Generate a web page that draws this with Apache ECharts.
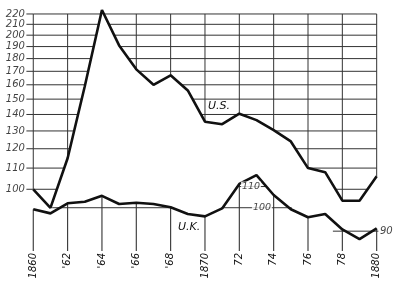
<!DOCTYPE html>
<html><head><meta charset="utf-8">
<script src="https://cdn.jsdelivr.net/npm/echarts@6/dist/echarts.min.js"></script>
<style>html,body{margin:0;padding:0;background:#fff}#c{width:400px;height:283px}</style>
</head><body><div id="c"></div>
<script>
// ---- data ----
const years = [1860,1861,1862,1863,1864,1865,1866,1867,1868,1869,1870,1871,1872,1873,1874,1875,1876,1877,1878,1879,1880];
const usValues = [100,92,115,159,224,191,171.5,160,167,156,135.5,134,140.5,136.5,130.5,124,110,108,95,95,106];
const ukValues = [99.3,97.5,102,102.7,105.5,101.7,102.3,101.7,100.2,97.2,96.2,99.7,111.3,115.8,105.9,99.3,95.8,97.2,90.7,86.8,91.1];
const usTicks = [100,110,120,130,140,150,160,170,180,190,200,210,220];
const xTickYears = [1860,1862,1864,1866,1868,1870,1872,1874,1876,1878,1880];
const xTickLabels = ['1860',"'62","'64","'66","'68",'1870','72','74','76','78','1880'];
const ukRefValues = [100,100,110,90];
const ukRefFrom = [1861.1,1870.95,1871.85,1877.45];
const ukRefTo = [1868.1,1875.05,1873.55,1880.1];
const ukRefLabelValues = [110,100];
const ukRefLabelYears = [1872.68,1873.32];

// ---- axis ranges / styles ----
const US_MIN = 75.76, US_MAX = 226.0, UK_MIN = 82.32, UK_MAX = 245.5;
const X_MIN = 1859.6, X_MAX = 1880.1;
const INK = '#111', GRID = '#333', FONT = 'DejaVu Sans';

const series = [];
function seg(data, yIdx, z, width) {
  series.push({type:'line', yAxisIndex:yIdx, data:data, symbol:'none', z:z,
    lineStyle:{color:GRID, width:width}});
}
// where a grid value lies above the US line (log axis: straight segments are linear in log)
function crossYear(i, v) {
  const la = Math.log(usValues[i]), lb = Math.log(usValues[i+1]);
  return years[i] + (Math.log(v) - la) / (lb - la) * (years[i+1] - years[i]);
}
usTicks.forEach(v => {
  seg([[X_MIN, v],[years[0], v]], 0, 1, 1);            // tick stub left of the axis
  let start = usValues[0] < v ? years[0] : null;
  for (let i = 0; i < years.length - 1; i++) {
    const aB = usValues[i] < v, bB = usValues[i+1] < v;
    if (aB !== bB) {
      const cx = crossYear(i, v);
      if (aB) { seg([[start, v],[cx, v]], 0, 1, 1); start = null; } else { start = cx; }
    }
  }
  if (start !== null) seg([[start, v],[years[years.length-1], v]], 0, 1, 1);
});
xTickYears.forEach(yr => {
  const u = usValues[years.indexOf(yr)];
  const top = usTicks[usTicks.length-1];
  if (u < top) seg([[yr, u],[yr, top]], 0, 1, 1);
});
// US line
series.push({type:'line', yAxisIndex:0, z:3, symbol:'none',
  data: years.map((y,i)=>[y, usValues[i]]), lineStyle:{color:INK, width:2.6}});
// UK verticals below its line
xTickYears.forEach(yr => seg([[yr, UK_MIN],[yr, ukValues[years.indexOf(yr)]]], 1, 4, 1.1));
// UK reference segments
ukRefValues.forEach((v,i) => seg([[ukRefFrom[i], v],[ukRefTo[i], v]], 1, 4, 1));
// UK line
series.push({type:'line', yAxisIndex:1, z:5, symbol:'none',
  data: years.map((y,i)=>[y, ukValues[i]]), lineStyle:{color:INK, width:2.6}});
// UK reference labels
series.push({type:'scatter', yAxisIndex:1, z:6, symbolSize:1,
  itemStyle:{color:'rgba(0,0,0,0)'},
  data: ukRefLabelYears.map((x,i)=>[x, ukRefLabelValues[i]]),
  label:{show:true, position:'inside', formatter:p=>String(p.value[1]), backgroundColor:'#fff',
    padding:[0,1], color:INK, fontFamily:FONT, fontStyle:'italic', fontSize:9.5}});
series.push({type:'scatter', yAxisIndex:1, z:6, symbolSize:1,
  itemStyle:{color:'rgba(0,0,0,0)'},
  data: [[X_MAX, ukRefValues[3]]],
  label:{show:true, position:'right', distance:1, formatter:p=>String(p.value[1]),
    color:INK, fontFamily:FONT, fontStyle:'italic', fontSize:10}});
// US tick labels
series.push({type:'scatter', yAxisIndex:0, z:6, symbolSize:1,
  itemStyle:{color:'rgba(0,0,0,0)'},
  data: usTicks.map(v=>[X_MIN, v]),
  label:{show:true, position:'left', distance:1, formatter:p=>String(p.value[1]),
    color:INK, fontFamily:FONT, fontStyle:'italic', fontSize:10}});

const chart = echarts.init(document.getElementById('c'), null, {renderer:'canvas'});
chart.setOption({
  animation:false,
  backgroundColor:'#fff',
  grid:{left:26.4, right:21.6, top:8, bottom:32},
  xAxis:{type:'value', min:X_MIN, max:X_MAX,
    axisLine:{show:false}, axisTick:{show:false}, splitLine:{show:false},
    axisLabel:{customValues:xTickYears, formatter:v=>xTickLabels[xTickYears.indexOf(Math.round(v))],
      rotate:90, margin:2, color:INK, fontFamily:FONT, fontStyle:'italic', fontSize:10}},
  yAxis:[
    {type:'log', logBase:10, min:US_MIN, max:US_MAX, axisLine:{show:false}, axisTick:{show:false}, axisLabel:{show:false}, splitLine:{show:false}},
    {type:'log', logBase:10, min:UK_MIN, max:UK_MAX, axisLine:{show:false}, axisTick:{show:false}, axisLabel:{show:false}, splitLine:{show:false}}
  ],
  graphic:[
    {type:'text', left:208, top:101, z:10, style:{text:'U.S.', font:'italic 11px "DejaVu Sans"', fill:INK}},
    {type:'text', left:178, top:222, z:10, style:{text:'U.K.', font:'italic 11px "DejaVu Sans"', fill:INK}}
  ],
  series:series
});
</script></body></html>
